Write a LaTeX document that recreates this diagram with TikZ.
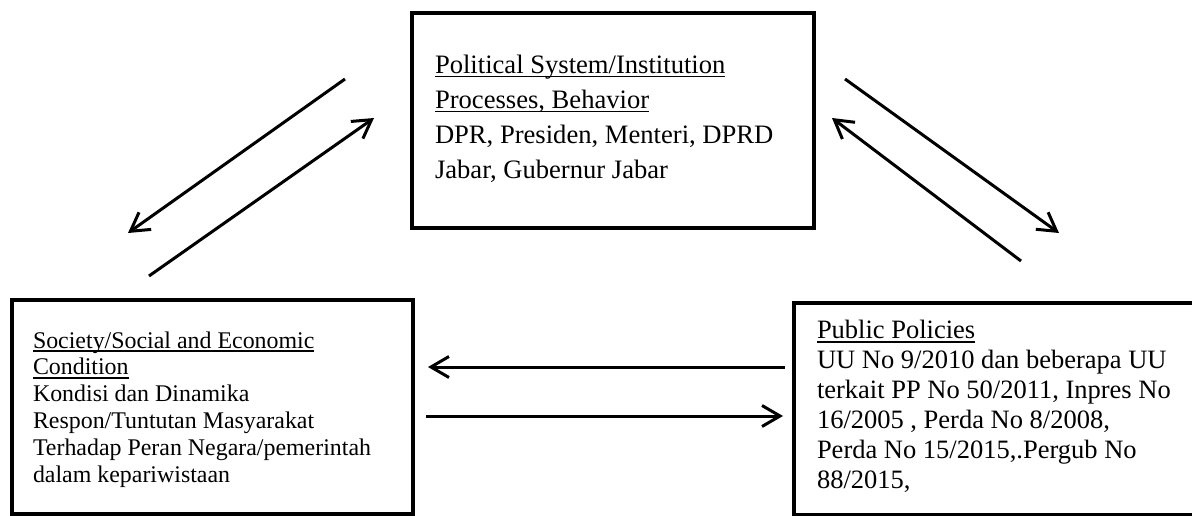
\documentclass[tikz,border=0pt]{standalone}
\usepackage{fontspec}
\setmainfont{Liberation Serif}
\usetikzlibrary{arrows.meta}
\newcommand\myul[1]{\leavevmode\setbox0\hbox{#1}\rlap{\rule[-4pt]{\wd0}{1.6pt}}\box0}
\newcommand\boxtext[3]{\parbox[t]{380pt}{\fontsize{#1}{#2}\selectfont\baselineskip=#2\relax\lineskiplimit=-50pt\relax #3}}
\tikzset{
  boxnode/.style={draw=black, line width=4pt, rectangle, inner sep=0pt, fill=none},
  txt/.style={anchor=base west, inner sep=0pt, outer sep=0pt},
  soctext/.style={txt, font=\fontsize{23.9pt}{26.8pt}\selectfont},
  flow/.style={line width=3pt, -{Straight Barb[length=18pt,width=21pt]}}
}
\begin{document}
\begin{tikzpicture}[x=1pt,y=-1pt]
\useasboundingbox (0,0) rectangle (1192,516);
% boxes
\node[boxnode, minimum width=402pt, minimum height=215pt] (pol) at (613,120.5) {};
\node[boxnode, minimum width=401pt, minimum height=214pt] (soc) at (212.5,407) {};
\node[boxnode, minimum width=402pt, minimum height=212pt] (pub) at (995,409) {};
% texts
\node[txt] (poltxt) at (435,73.3) {\boxtext{26.6pt}{35pt}{%
\myul{Political System/Institution}\\
\myul{Processes, Behavior}\\
DPR, Presiden, Menteri, DPRD\\
Jabar, Gubernur Jabar}};
\node[soctext] (soc1) at (33,348) {\myul{Society/Social and Economic}};
\node[soctext] (soc2) at (33,374.8) {\myul{Condition}};
\node[soctext] (soc3) at (33,401.6) {Kondisi dan Dinamika};
\node[soctext] (soc4) at (33,428.4) {Respon/Tuntutan Masyarakat};
\node[soctext] (soc5) at (33,455.2) {Terhadap Peran Negara/pemerintah};
\node[soctext] (soc6) at (33,482) {dalam kepariwistaan};
\node[txt] (pubtxt) at (817,338.5) {\boxtext{26.5pt}{30pt}{%
\myul{Public Policies}\\
UU No 9/2010 dan beberapa UU\\
terkait PP No 50/2011, Inpres No\\
16/2005 , Perda No 8/2008,\\
Perda No 15/2015,.Pergub No\\
88/2015,}};
% arrow end points
\coordinate (la1s) at (345,79);
\coordinate (la1e) at (128,233);
\coordinate (la2s) at (149,276);
\coordinate (la2e) at (374,118);
\coordinate (ra1s) at (845,79);
\coordinate (ra1e) at (1059,233);
\coordinate (ra2s) at (1021,261);
\coordinate (ra2e) at (832,118);
\coordinate (ha1s) at (785,367);
\coordinate (ha1e) at (428,367);
\coordinate (ha2s) at (426,416);
\coordinate (ha2e) at (783,416);
\draw[flow] (la1s) -- (la1e);
\draw[flow] (la2s) -- (la2e);
\draw[flow] (ra1s) -- (ra1e);
\draw[flow] (ra2s) -- (ra2e);
\draw[flow] (ha1s) -- (ha1e);
\draw[flow] (ha2s) -- (ha2e);
\end{tikzpicture}
\end{document}
